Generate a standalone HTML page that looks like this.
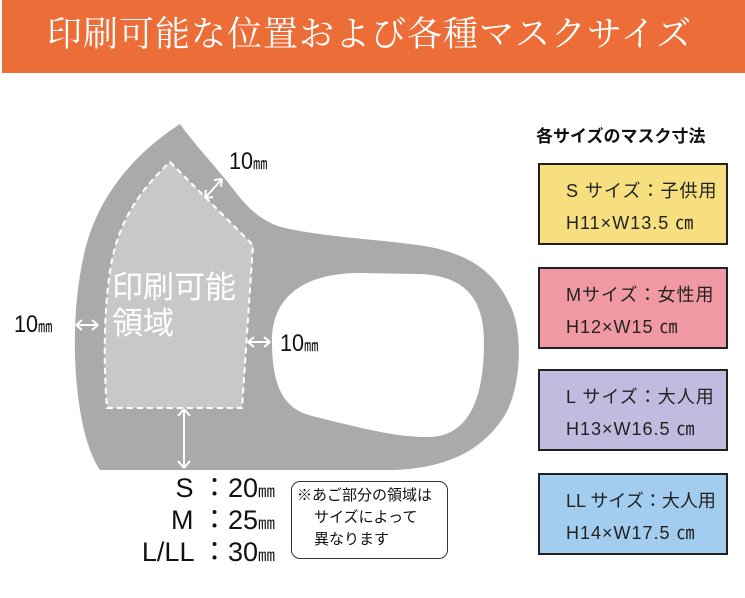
<!DOCTYPE html>
<html><head><meta charset="utf-8"><style>
html,body{margin:0;padding:0;background:#fff;}
body{width:745px;height:598px;position:relative;overflow:hidden;font-family:"Liberation Sans","Noto Sans CJK JP",sans-serif;color:#111;}
.hdr{position:absolute;left:2px;top:0;width:743px;height:73px;background:#ec6d37;}
.hdr span{position:absolute;left:45px;top:13px;font-family:"Liberation Serif","Noto Serif CJK SC",serif;font-size:35px;color:#fff;line-height:44px;white-space:nowrap;letter-spacing:1px;}
.t{position:absolute;white-space:nowrap;}
.box{position:absolute;left:538px;width:190px;border:2px solid #222;box-sizing:border-box;height:82px;font-size:18px;color:#222;}
.box div{position:absolute;left:26px;white-space:nowrap;letter-spacing:1px;}
.note{position:absolute;left:291px;top:481px;width:157px;height:78px;border:1.5px solid #333;border-radius:9px;box-sizing:border-box;font-size:15px;line-height:22px;}
.mm{font-size:22px;transform:scaleX(0.9);transform-origin:left;}
</style></head><body>
<div class="hdr"><span>印刷可能な位置および各種マスクサイズ</span></div>
<svg width="745" height="598" style="position:absolute;left:0;top:0">
<path d="M180,124 C140,150 100,190 85,250 C73,300 72,360 80,410 C85,440 92,458 100,470 L395,470 C440,468 480,455 505,415 C522,385 523,330 510,305 C495,272 470,255 430,247 C390,240 330,238 285,228 C260,222 245,205 230,185 C210,160 195,145 180,124 Z" fill="#aaaaaa"/>
<path d="M272,345 C270,300 300,273 360,273 L420,274 C468,276 484,302 484,342 C484,400 468,437 428,437 C390,437 350,425 312,416 C285,409 273,390 272,345 Z" fill="#fff"/>
<path d="M170,162 L253,245 L242,408 L107,408 C103,360 104,300 112,260 C120,220 140,190 170,162 Z" fill="#c8c8c8" stroke="#fff" stroke-width="2" stroke-dasharray="6,4"/>
<g stroke="#fff" stroke-width="2" fill="none">
<path d="M205,198 L222,179 M205,198 L206,190 M205,198 L213,197 M222,179 L221,187 M222,179 L214,180"/>
<path d="M76,325 L98,325 M76,325 L82,320 M76,325 L82,330 M98,325 L92,320 M98,325 L92,330"/>
<path d="M248,342 L270,342 M248,342 L254,337 M248,342 L254,347 M270,342 L264,337 M270,342 L264,347"/>
<path d="M184,409 L184,468 M184,409 L178,416 M184,409 L190,416 M184,468 L178,461 M184,468 L190,461"/>
</g>
</svg>
<div class="t" style="left:112px;top:270px;font-size:31px;color:#fff;line-height:36px;">印刷可能<br>領域</div>
<div class="t mm" style="left:229px;top:148px;font-size:24px;">10<span style="font-size:16px">㎜</span></div>
<div class="t mm" style="left:14px;top:311px;font-size:24px;">10<span style="font-size:16px">㎜</span></div>
<div class="t mm" style="left:280px;top:330px;font-size:24px;">10<span style="font-size:16px">㎜</span></div>
<div class="t" style="right:470px;top:474px;font-size:27px;line-height:29px;text-align:right;">S ：20<span style="font-size:17px">㎜</span><br>M ：25<span style="font-size:17px">㎜</span><br>L/LL ：30<span style="font-size:17px">㎜</span></div>
<div class="note"><div class="t" style="left:5px;top:3px">※あご部分の領域は</div><div class="t" style="left:22px;top:25px">サイズによって</div><div class="t" style="left:22px;top:47px">異なります</div></div>
<div class="t" style="left:536px;top:122px;font-size:17px;font-weight:bold;">各サイズのマスク寸法</div>
<div class="box" style="top:163px;background:#f7de7f;"><div style="top:12px">S サイズ：子供用</div><div style="top:44px">H11×W13.5 ㎝</div></div>
<div class="box" style="top:267px;background:#f199a3;"><div style="top:12px">Mサイズ：女性用</div><div style="top:44px">H12×W15 ㎝</div></div>
<div class="box" style="top:369px;background:#bfbce0;"><div style="top:12px">L サイズ：大人用</div><div style="top:44px">H13×W16.5 ㎝</div></div>
<div class="box" style="top:473px;background:#a3cdee;"><div style="top:12px;letter-spacing:0">LL サイズ：大人用</div><div style="top:44px">H14×W17.5 ㎝</div></div>
</body></html>
